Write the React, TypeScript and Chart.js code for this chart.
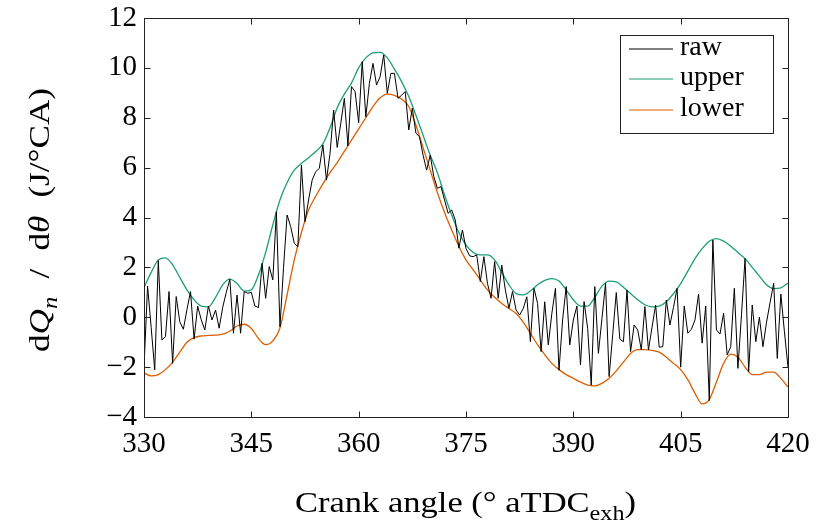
import React, { useEffect, useRef } from 'react';
import { Chart, registerables } from 'chart.js';

Chart.register(...registerables);

// ---------- data ----------
const rawStart = 330;
const rawStep = 0.5;
const rawValues = [
  -2.0, 1.25, -0.4, -2.11, 2.27, -0.91, -0.78, 1.03, -1.85, 0.83,
  -0.18, -0.48, 0.3, 1.03, -0.88, 0.45, -0.1, -0.51, 0.45, -0.11,
  0.29, -0.44, 0.4, 1.0, 1.52, -0.64, 0.89, -0.64, 1.03, 0.96,
  1.0, 0.45, 0.39, 2.16, 0.76, 2.03, 1.5, 4.23, -0.38, 2.0,
  4.1, 3.63, 2.97, 2.83, 6.1, 3.83, 4.7, 5.5, 5.84, 5.97,
  6.91, 5.5, 6.57, 8.31, 6.81, 7.78, 8.78, 6.87, 9.25, 9.05,
  7.8, 10.25, 8.04, 9.38, 10.18, 9.31, 9.65, 10.52, 8.98, 9.78,
  9.78, 8.78, 8.9, 9.05, 7.51, 8.38, 7.38, 7.24, 6.5, 5.9,
  6.5, 5.64, 5.17, 5.24, 4.7, 4.17, 4.3, 3.9, 2.77, 3.5,
  2.76, 2.46, 2.43, 2.5, 1.43, 2.43, 1.36, 0.76, 2.23, 0.76,
  2.09, 1.09, 0.36, 1.03, 0.29, 0.09, 0.35, 0.82, -0.98, 1.16,
  0.56, -1.38, 0.62, -1.11, 0.16, 1.16, -2.12, -0.11, 1.23, -1.11,
  -0.11, 0.45, -1.91, 0.63, -0.44, -2.72, 1.23, -1.45, -0.05, 1.36,
  -2.38, -0.7, 0.99, -0.88, -0.98, 1.09, -1.38, -0.31, -0.51, -1.31,
  0.43, -1.31, -0.4, 0.49, -1.2, -1.18, 0.69, -0.31, 0.4, 1.16,
  -2.0, 0.45, -0.64, -0.48, -0.11, 0.93, -1.04, 0.45, -3.34, 3.1,
  -0.51, -0.67, 0.16, -1.51, -1.18, 1.16, -2.05, 0.1, 2.36, -2.18,
  0.49, -0.98, 0.0, -1.18, -0.2, 0.6, 1.36, -1.65, 0.93, -0.58,
  -2.0,
];

const envStart = 330;
const envStep = 1;
const upperValues = [
  1.2, 1.8, 2.3, 2.38, 2.1, 1.6, 1.1, 0.7, 0.45, 0.42,
  0.8, 1.3, 1.53, 1.35, 1.05, 1.1, 1.7, 2.6, 3.7, 4.7,
  5.4, 5.9, 6.17, 6.4, 6.65, 6.95, 7.6, 8.4, 8.95, 9.4,
  10.0, 10.4, 10.6, 10.62, 10.4, 9.95, 9.45, 8.85, 8.1, 7.3,
  6.5, 5.8, 4.9, 4.1, 3.4, 2.9, 2.6, 2.5, 2.5, 2.3,
  1.8, 1.3, 0.95, 0.9, 1.05, 1.3, 1.48, 1.55, 1.45, 1.1,
  0.7, 0.45, 0.45, 0.8, 1.25, 1.45, 1.42, 1.2, 0.95, 0.7,
  0.5, 0.42, 0.45, 0.62, 0.95, 1.35, 1.85, 2.35, 2.75, 3.05,
  3.15, 3.05, 2.85, 2.6, 2.35, 2.0, 1.65, 1.3, 1.15, 1.18,
  1.37,
];
const lowerValues = [
  -2.23, -2.35, -2.3, -2.1, -1.8, -1.4, -1.0, -0.82, -0.75, -0.73,
  -0.72, -0.68, -0.55, -0.35, -0.28, -0.45, -0.85, -1.1, -0.95, -0.43,
  0.9, 2.3, 3.4, 4.3, 4.85, 5.35, 5.8, 6.2, 6.65, 7.1,
  7.55, 8.0, 8.45, 8.8, 8.95, 8.9, 8.75, 8.45, 7.7, 6.8,
  5.9, 5.0, 4.2, 3.5, 2.85, 2.3, 1.9, 1.5, 1.1, 0.8,
  0.55, 0.35, 0.15, -0.2, -0.65, -1.1, -1.5, -1.85, -2.1, -2.3,
  -2.45, -2.6, -2.72, -2.75, -2.65, -2.45, -2.15, -1.8, -1.45, -1.3,
  -1.3, -1.33, -1.4, -1.6, -1.85, -2.1, -2.5, -3.05, -3.47, -3.3,
  -2.6, -1.85, -1.48, -1.6, -2.0, -2.3, -2.3, -2.2, -2.2, -2.45,
  -2.8,
];

const xTicks = [330, 345, 360, 375, 390, 405, 420];
const yTicks = [-4, -2, 0, 2, 4, 6, 8, 10, 12];
const seriesNames = ['raw', 'upper', 'lower'];
const seriesColors = ['#000000', '#1b9e77', '#d95f02'];

const FONT = "'Liberation Serif', 'DejaVu Serif', serif";

type Run = { t: string; it?: boolean; sub?: boolean; gap?: boolean };

function drawRuns(ctx: CanvasRenderingContext2D, runs: Run[], size: number, target: number, stretch: number) {
  const fontFor = (r: Run) => `${r.it ? 'italic ' : ''}${r.sub ? Math.round(size * 0.7) : size}px ${FONT}`;
  let total = 0;
  let gaps = 0;
  for (const r of runs) {
    if (r.gap) { gaps++; continue; }
    ctx.font = fontFor(r);
    total += ctx.measureText(r.t).width;
  }
  const gapW = gaps ? Math.max(0, (target / stretch - total) / gaps) : 0;
  const sx = gaps ? stretch : target / total;
  const full = total + gapW * gaps;
  ctx.scale(sx, 1);
  let x = -full / 2;
  ctx.textAlign = 'left';
  ctx.textBaseline = 'alphabetic';
  for (const r of runs) {
    if (r.gap) { x += gapW; continue; }
    ctx.font = fontFor(r);
    ctx.fillText(r.t, x, r.sub ? size * 0.25 : 0);
    x += ctx.measureText(r.t).width;
  }
}

const decorPlugin = {
  id: 'decor',
  afterDraw(chart: any) {
    const { ctx, chartArea: a, scales } = chart;
    const xs = scales.x;
    const ys = scales.y;
    ctx.save();
    ctx.strokeStyle = '#222';
    ctx.lineWidth = 1;
    const L = Math.round(a.left) + 0.5;
    const R = Math.round(a.right) + 0.5;
    const T = Math.round(a.top) + 0.5;
    const B = Math.round(a.bottom) + 0.5;
    ctx.strokeRect(L, T, R - L, B - T);
    const tl = 6;
    ctx.beginPath();
    for (const t of xTicks) {
      const px = Math.round(xs.getPixelForValue(t)) + 0.5;
      ctx.moveTo(px, B); ctx.lineTo(px, B - tl);
      ctx.moveTo(px, T); ctx.lineTo(px, T + tl);
    }
    for (const t of yTicks) {
      const py = Math.round(ys.getPixelForValue(t)) + 0.5;
      ctx.moveTo(L, py); ctx.lineTo(L + tl, py);
      ctx.moveTo(R, py); ctx.lineTo(R - tl, py);
    }
    ctx.stroke();

    // legend
    const lx = 620.5, ly = 35.5, lw = 153, lh = 98;
    ctx.fillStyle = '#fff';
    ctx.fillRect(lx, ly, lw, lh);
    ctx.strokeStyle = '#222';
    ctx.strokeRect(lx, ly, lw, lh);
    const rows = [49, 79, 110];
    for (let i = 0; i < seriesNames.length; i++) {
      ctx.strokeStyle = seriesColors[i];
      ctx.lineWidth = 1.2;
      ctx.beginPath();
      ctx.moveTo(629, rows[i]);
      ctx.lineTo(673, rows[i]);
      ctx.stroke();
      ctx.fillStyle = '#000';
      ctx.font = `28px ${FONT}`;
      ctx.textAlign = 'left';
      ctx.textBaseline = 'middle';
      ctx.fillText(seriesNames[i], 680, rows[i] - 1);
    }

    // axis titles
    ctx.fillStyle = '#000';
    ctx.save();
    ctx.translate(465.5, 512);
    drawRuns(ctx, [{ t: 'Crank angle (° aTDC' }, { t: 'exh', sub: true }, { t: ')' }], 30, 341, 1);
    ctx.restore();
    ctx.save();
    ctx.translate(49, 220);
    ctx.rotate(-Math.PI / 2);
    drawRuns(ctx, [
      { t: 'd' }, { t: 'Q', it: true }, { t: 'n', it: true, sub: true },
      { t: '', gap: true }, { t: '/' }, { t: '', gap: true },
      { t: 'd' }, { t: 'θ', it: true }, { t: '', gap: true }, { t: '(J/°CA)' },
    ], 30, 264, 1.17);
    ctx.restore();
    ctx.restore();
  },
};

const zeroPad = (s: any) => {
  s.paddingTop = 0; s.paddingBottom = 0; s.paddingLeft = 0; s.paddingRight = 0;
};

export default function App() {
  const ref = useRef<HTMLCanvasElement | null>(null);
  useEffect(() => {
    if (!ref.current) return;
    const raw = rawValues.map((v, i) => ({ x: rawStart + i * rawStep, y: v }));
    const upper = upperValues.map((v, i) => ({ x: envStart + i * envStep, y: v }));
    const lower = lowerValues.map((v, i) => ({ x: envStart + i * envStep, y: v }));
    const chart = new Chart(ref.current, {
      type: 'line',
      data: {
        datasets: [
          { label: seriesNames[0], data: raw, borderColor: seriesColors[0], borderWidth: 1, pointRadius: 0, tension: 0 },
          { label: seriesNames[1], data: upper, borderColor: seriesColors[1], borderWidth: 1.3, pointRadius: 0, cubicInterpolationMode: 'monotone' },
          { label: seriesNames[2], data: lower, borderColor: seriesColors[2], borderWidth: 1.3, pointRadius: 0, cubicInterpolationMode: 'monotone' },
        ],
      },
      options: {
        animation: false,
        responsive: true,
        maintainAspectRatio: false,
        layout: { padding: { top: 18, right: 28, left: 0, bottom: 0 } },
        plugins: { legend: { display: false }, tooltip: { enabled: false } },
        scales: {
          x: {
            type: 'linear', min: 330, max: 420,
            grid: { display: false, drawTicks: false },
            border: { display: false },
            afterBuildTicks: (s: any) => { s.ticks = xTicks.map((v) => ({ value: v })); },
            afterFit: (s: any) => { s.height = 112; zeroPad(s); },
            ticks: { color: '#000', font: { family: FONT, size: 29 }, padding: 10, maxRotation: 0 },
          },
          y: {
            type: 'linear', min: -4, max: 12,
            grid: { display: false, drawTicks: false },
            border: { display: false },
            afterBuildTicks: (s: any) => { s.ticks = yTicks.map((v) => ({ value: v })); },
            afterFit: (s: any) => { s.width = 144; zeroPad(s); },
            ticks: {
              color: '#000', font: { family: FONT, size: 29 }, padding: 7,
              callback: (v: any) => (Number(v) < 0 ? '−' + Math.abs(Number(v)) : String(v)),
            },
          },
        },
      },
      plugins: [decorPlugin],
    });
    return () => chart.destroy();
  }, []);
  return (
    <div style={{ position: 'absolute', left: 0, top: 0, width: 816, height: 529, background: '#fff' }}>
      <canvas ref={ref} />
    </div>
  );
}
